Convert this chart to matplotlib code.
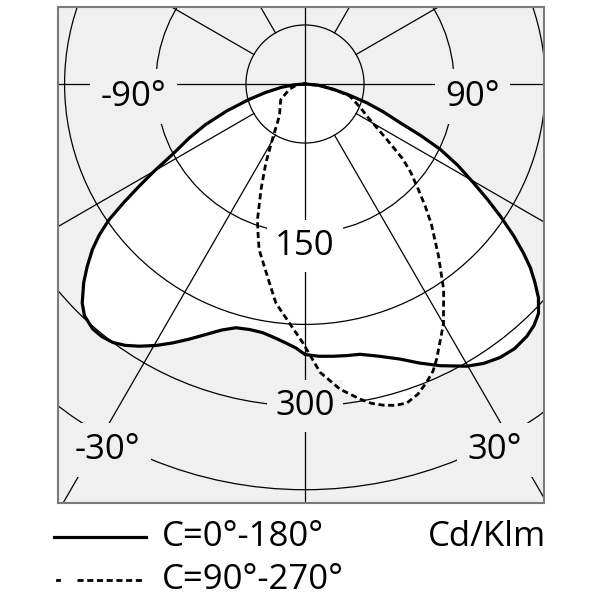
import numpy as np
import matplotlib.pyplot as plt
from matplotlib.patches import Circle

# photometric data (cd/klm), angle 0 = straight down, -90 left, 90 right
ang_c0 = [-90, -86, -82, -78, -74.6, -71, -67.8, -65, -62, -60, -58.4, -56.8, -55.3, -53.7, -52.1,
          -50, -48.1, -45.5, -43.6, -40.9, -38.8, -36.6, -34.5, -32.3, -29.7, -27.1, -24.4, -21.6,
          -18.7, -15.8, -12.7, -9.65, -6.9, -4.2, -2, 0, 2.9, 5.9, 8.7, 11.5, 15.3, 19, 22.3, 25.6,
          29.8, 32.6, 35.5, 38.4, 41.3, 43.5, 45.5, 47.5, 49.2, 50.8, 52.3, 54, 55.9, 57.7, 59.6,
          62, 64.2, 66, 67.8, 70.5, 73.1, 76, 79.4, 85, 90]
c0_180 = [0, 10, 22, 37, 54, 77, 100, 119, 140, 162, 181, 202, 222, 238, 251,
          265, 277, 291, 298, 302, 302, 300, 295.5, 289, 280.5, 271, 261, 251,
          242, 236, 234.5, 235, 238, 242, 246, 252, 254, 255, 256, 257, 263, 271, 281, 291,
          303, 309, 313, 314.5, 313, 310, 305, 295, 283, 271, 257, 240, 220, 201, 182,
          161, 140, 118, 96, 77, 60, 42, 27, 12, 0]

ang_c90 = [-90, -86, -80, -71.3, -57, -38.8, -31, -26.4, -22.7, -19.3, -17.6, -15.5, -11, -7.55,
           -4.6, -0.5, 3, 6.5, 9.9, 11.8, 13.7, 15.7, 17.7, 20, 22.2, 24, 25.6, 30, 34, 37.8, 42,
           44.5, 47.1, 50, 52.5, 55.9, 59, 62.6, 67, 75, 78, 84, 90]
c90_270 = [0, 5, 9, 15.5, 27, 38, 58, 82, 106, 134, 145, 160, 183, 206,
           219, 241, 269, 286, 298, 304, 308, 311, 312, 307.5, 300, 293, 284, 258, 231, 203, 176,
           160, 144, 129, 115, 92, 77, 65, 56, 43, 31, 15, 0]

circulos = [55, 139, 224, 300, 378]
radiales = [-150, -120, -60, -30, 30, 60, 120, 150]
etiquetas_r = [("150", 0, 151), ("300", 0, 300)]
etiquetas_ang = [("-90°", -160, -12), ("90°", 156, -12), ("-30°", -184, -341), ("30°", 177, -341)]

gris = "#f0f0f0"
plt.rcParams['font.family'] = ['Open Sans', 'DejaVu Sans']

k = 322 / 300.0  # px per cd
cx, cy = 305, 84
fig = plt.figure(figsize=(6, 6), dpi=100)
ax = fig.add_axes([58 / 600, 1 - 503 / 600, 486 / 600, 496 / 600])
ax.set_facecolor(gris)
ax.set_xlim((58 - cx) / k, (544 - cx) / k)
ax.set_ylim(-(503 - cy) / k, (cy - 7) / k)
ax.set_xticks([])
ax.set_yticks([])
for s in ax.spines.values():
    s.set_color("#7a7a7a")
    s.set_linewidth(1.5)

def xy(ang, val):
    a = np.radians(np.array(ang, dtype=float))
    v = np.array(val, dtype=float)
    return v * np.sin(a), -v * np.cos(a)

x1, y1 = xy(ang_c0, c0_180)
x2, y2 = xy(ang_c90, c90_270)
ax.fill(x1, y1, color="white", zorder=1, lw=0)
ax.fill(x2, y2, color="white", zorder=1, lw=0)

for R in circulos:
    ax.add_patch(Circle((0, 0), R, fill=False, lw=0.9, color="black", zorder=2))
ax.plot([0, 0], [-600, 600], color="black", lw=0.9, zorder=2)
ax.plot([-600, 600], [0, 0], color="black", lw=0.9, zorder=2)
for a in radiales:
    xr, yr = xy([a, a], [circulos[0], 700])
    ax.plot(xr, yr, color="black", lw=0.9, zorder=2)

for t, x, y in etiquetas_r:
    ax.text(x, -y, t, fontsize=25, ha="center", va="center", zorder=3,
            bbox=dict(boxstyle="square,pad=0.25", fc="white" if t == "150" else gris, ec="none"))
for t, x, y in etiquetas_ang:
    ax.text(x, y, t, fontsize=25, ha="center", va="center", zorder=3,
            bbox=dict(boxstyle="square,pad=0.3", fc=gris, ec="none"))

ax.plot(x1, y1, color="black", lw=2.3, zorder=4, solid_joinstyle="round")
ax.plot(x2, y2, color="black", lw=2.0, zorder=4, linestyle=(0, (2.2, 1.3)))

# legend area in pixel coords
lg = fig.add_axes([0, 0, 1, 96 / 600])
lg.set_xlim(0, 600)
lg.set_ylim(600, 504)
lg.axis("off")
lg.plot([54, 146], [537, 537], color="black", lw=2.3)
lg.plot([57, 59], [580, 580], color="black", lw=2.0)
lg.plot([77, 143], [580, 580], color="black", lw=2.0, linestyle=(0, (2.2, 1.3)))
lg.text(162, 537, "C=0°-180°", fontsize=25, ha="left", va="center")
lg.text(162, 580, "C=90°-270°", fontsize=25, ha="left", va="center")
lg.text(546, 537, "Cd/Klm", fontsize=25, ha="right", va="center")

fig.savefig("out.png", dpi=100, facecolor="white")
